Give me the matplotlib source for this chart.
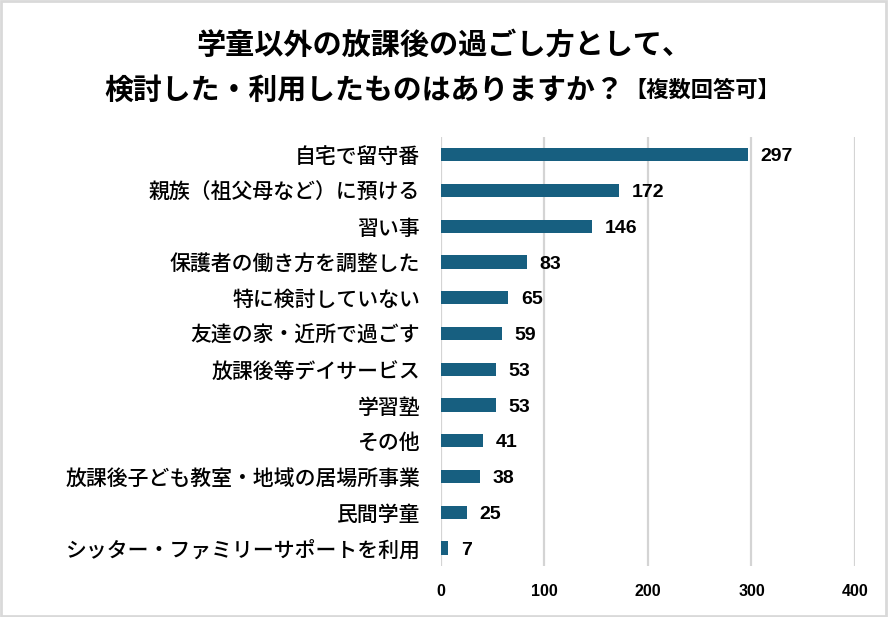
import matplotlib
matplotlib.use("Agg")
import matplotlib.pyplot as plt
from matplotlib.patches import Rectangle

categories = [
    "自宅で留守番",
    "親族（祖父母など）に預ける",
    "習い事",
    "保護者の働き方を調整した",
    "特に検討していない",
    "友達の家・近所で過ごす",
    "放課後等デイサービス",
    "学習塾",
    "その他",
    "放課後子ども教室・地域の居場所事業",
    "民間学童",
    "シッター・ファミリーサポートを利用",
]
values = [297, 172, 146, 83, 65, 59, 53, 53, 41, 38, 25, 7]
xticks = [0, 100, 200, 300, 400]

plt.rcParams['font.family'] = ['Noto Sans CJK JP', 'DejaVu Sans']

fig = plt.figure(figsize=(8.88, 6.17), dpi=100)
ax = fig.add_axes([0.4966, 0.0827, 0.4662, 0.6953])

ypos = list(range(len(categories)))
ax.barh(ypos, values, height=0.37, color='#175f80', zorder=3)
ax.set_ylim(len(categories) - 0.5, -0.5)
ax.set_xlim(0, 400)
ax.set_yticks(ypos)
ax.set_yticklabels(categories, fontsize=15, fontweight='medium', color='#000000')
ax.set_xticks(xticks)
ax.set_xticklabels([str(t) for t in xticks], fontsize=11.5, fontweight='bold',
                   family=['Liberation Sans', 'DejaVu Sans'])
ax.tick_params(axis='y', length=0, pad=15)
ax.tick_params(axis='x', length=0, pad=13)
ax.grid(axis='x', color='#d4d4d4', linewidth=1.6, zorder=0)
for s in ax.spines.values():
    s.set_visible(False)

for y, v in zip(ypos, values):
    ax.annotate(str(v), xy=(v, y), xytext=(9, -1.5), textcoords='offset points',
                va='center', ha='left', fontsize=14, fontweight='bold',
                family=['Liberation Sans', 'DejaVu Sans'])

fig.text(0.5, 1 - 45 / 617, "学童以外の放課後の過ごし方として、", ha='center', va='center',
         fontsize=21, fontweight='bold')
fig.text(0.703, 1 - 90 / 617, "検討した・利用したものはありますか？", ha='right', va='center',
         fontsize=20.8, fontweight='bold')
fig.text(0.703, 1 - 90 / 617, "【複数回答可】", ha='left', va='center',
         fontsize=16, fontweight='bold')

fig.patches.append(Rectangle((0.001, 0.001), 0.997, 0.997, transform=fig.transFigure,
                             fill=False, edgecolor='#d9d9d9', linewidth=2))

fig.savefig("out.png", dpi=100)
